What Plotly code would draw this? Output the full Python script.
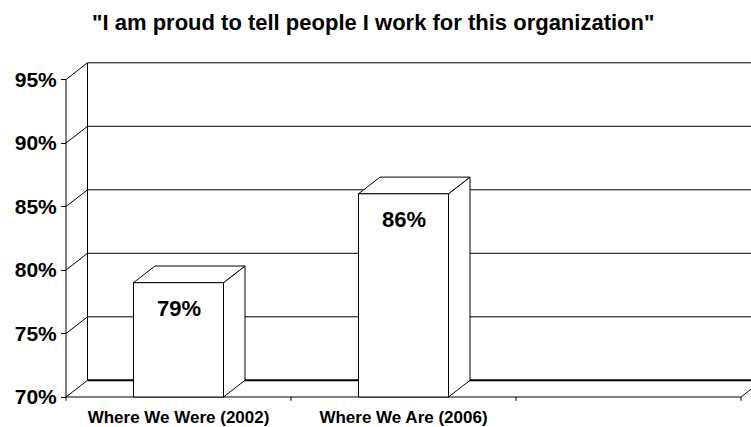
import plotly.graph_objects as go

# ---- data ----
categories = ["Where We Were (2002)", "Where We Are (2006)", ""]
values = [79, 86, None]
tick_vals = [70, 75, 80, 85, 90, 95]
tick_text = ["70%", "75%", "80%", "85%", "90%", "95%"]
title_text = '"I am proud to tell people I work for this organization"'

# ---- style / geometry constants ----
FONT = "Liberation Sans, Arial, sans-serif"
PX_X = 225.0      # pixels per category
PX_Y = 12.7       # pixels per percent
DX = 21.5 / PX_X  # 3D depth in x data units
DY = 16.7 / PX_Y  # 3D depth in y data units
HALF = 0.2        # half bar width
W, H = 751, 427
ML, MR, MT, MB = 58, 0, 55, 25
LEFT_PAD_PX = 8
BOT_PAD_PX = 5

n = len(categories)
x_lo = -0.5 - LEFT_PAD_PX / PX_X
x_hi = x_lo + (W - ML - MR) / PX_X
y_lo = tick_vals[0] - BOT_PAD_PX / PX_Y
y_hi = y_lo + (H - MT - MB) / PX_Y
base = tick_vals[0]
top = tick_vals[-1]
xl = -0.5
xr = n - 0.5

fig = go.Figure()

def seg_trace(xs, ys, width=1):
    fig.add_trace(go.Scatter(x=xs, y=ys, mode="lines",
                             line=dict(color="black", width=width),
                             hoverinfo="skip", showlegend=False))

# back wall vertical edge
seg_trace([xl + DX, xl + DX], [base + DY, top + DY])
# back wall gridlines
gx, gy = [], []
for v in tick_vals[1:]:
    gx += [xl + DX, x_hi, None]
    gy += [v + DY, v + DY, None]
seg_trace(gx, gy)
seg_trace([xl + DX, x_hi], [base + DY, base + DY], width=2)
# left side diagonals
dxs, dys = [], []
for v in tick_vals:
    dxs += [xl, xl + DX, None]
    dys += [v, v + DY, None]
seg_trace(dxs, dys)
# front axis line
seg_trace([xl, xl], [base, top])
# front floor edge + right diagonal
seg_trace([xl, xr, xr + DX], [base, base, base + DY])
# category boundary ticks
tx, ty = [], []
for i in range(n + 1):
    b = i - 0.5
    tx += [b, b, None]
    ty += [base, base - 0.3, None]
seg_trace(tx, ty)

# bars (3D boxes)
for i, v in enumerate(values):
    if v is None:
        continue
    x0, x1 = i - HALF, i + HALF
    faces = [
        ([x1, x1 + DX, x1 + DX, x1, x1], [base, base + DY, v + DY, v, base]),
        ([x0, x1, x1 + DX, x0 + DX, x0], [v, v, v + DY, v + DY, v]),
        ([x0, x1, x1, x0, x0], [base, base, v, v, base]),
    ]
    for fx, fy in faces:
        fig.add_trace(go.Scatter(x=fx, y=fy, mode="lines", fill="toself",
                                 fillcolor="white",
                                 line=dict(color="black", width=1),
                                 hoverinfo="skip", showlegend=False))
    fig.add_annotation(x=i, y=v, text=f"{v}%", showarrow=False,
                       yanchor="top", yshift=-11,
                       font=dict(family=FONT, size=22, color="black", weight="bold"))

fig.update_layout(
    width=W, height=H,
    margin=dict(l=ML, r=MR, t=MT, b=MB, pad=0),
    paper_bgcolor="white", plot_bgcolor="white",
    title=dict(text=title_text, x=0.497, xanchor="center", y=0.948, yanchor="middle",
               font=dict(family=FONT, size=22, color="black", weight="bold")),
    xaxis=dict(range=[x_lo, x_hi], tickvals=list(range(n)), ticktext=categories,
               showgrid=False, zeroline=False, showline=False, ticks="",
               ticklabelstandoff=3,
               tickfont=dict(family=FONT, size=17, color="black", weight="bold")),
    yaxis=dict(range=[y_lo, y_hi], tickvals=tick_vals, ticktext=tick_text,
               showgrid=False, zeroline=False, showline=False,
               ticks="outside", ticklen=5, tickcolor="black", tickwidth=1,
               anchor="free", position=LEFT_PAD_PX / (W - ML - MR),
               tickfont=dict(family=FONT, size=21, color="black", weight="bold")),
)

fig.write_html("out.html")
